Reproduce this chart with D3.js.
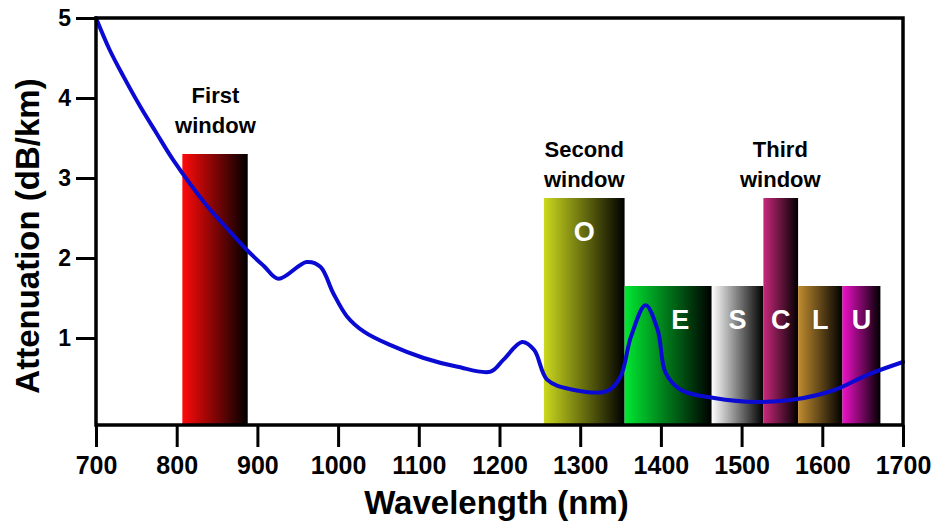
<!DOCTYPE html>
<html>
<head>
<meta charset="utf-8">
<script src="https://cdn.jsdelivr.net/npm/d3@7"></script>
<style>
  body { margin: 0; background: #fff; }
  text { font-family: "Liberation Sans", Arial, sans-serif; font-weight: bold; }
</style>
</head>
<body>
<script>
// attenuation curve of silica fibre
var wavelength = [700, 717, 734, 755, 775, 796, 837, 866, 887, 908, 926, 961, 978, 994, 1011, 1032,
                  1065, 1106, 1148, 1189, 1205, 1228, 1243, 1259, 1288, 1334, 1350, 1363, 1381, 1396,
                  1406, 1425, 1466, 1520, 1565, 1615, 1656, 1700];
var attenuation = [5.0, 4.6, 4.27, 3.89, 3.56, 3.22, 2.66, 2.33, 2.1, 1.9, 1.74, 1.95, 1.89, 1.56, 1.27, 1.08,
                   0.91, 0.75, 0.64, 0.58, 0.73, 0.95, 0.85, 0.48, 0.36, 0.34, 0.52, 1.02, 1.41, 1.1,
                   0.56, 0.35, 0.25, 0.2, 0.23, 0.35, 0.54, 0.70];

// bands (windows)
var bandNames  = ["", "O", "E", "S", "C", "L", "U"];
var bandStart  = [807, 1255, 1355, 1463, 1527, 1570, 1625];
var bandEnd    = [888, 1355, 1463, 1527, 1570, 1625, 1672];
var bandTop    = [3.3, 2.75, 1.65, 1.65, 2.75, 1.65, 1.65];
var bandColors = ["#ff0a0a", "#cbd81e", "#00e832", "#ffffff", "#c8287a", "#c08c30", "#f010c8"];

var windowNames = [["First", "window"], ["Second", "window"], ["Third", "window"]];
var windowCenter = [848, 1305, 1548];

var xTicks = [700, 800, 900, 1000, 1100, 1200, 1300, 1400, 1500, 1600, 1700];
var yTicks = [1, 2, 3, 4, 5];

var W = 935, H = 527;
var margin = {top: 18, right: 32, bottom: 102, left: 96};
var w = W - margin.left - margin.right;
var h = H - margin.top - margin.bottom;

var x = d3.scaleLinear().domain([700, 1700]).range([0, w]);
var y = d3.scaleLinear().domain([-0.0875, 5]).range([h, 0]);

var svg = d3.select("body").append("svg")
    .attr("width", W)
    .attr("height", H);

var defs = svg.append("defs");
bandColors.forEach(function(c, i) {
  var g = defs.append("linearGradient")
      .attr("id", "grad" + i)
      .attr("x1", "0%").attr("x2", "100%")
      .attr("y1", "0%").attr("y2", "0%");
  g.append("stop").attr("offset", "0%").attr("stop-color", c);
  g.append("stop").attr("offset", "100%").attr("stop-color", "#000");
});

var g = svg.append("g")
    .attr("transform", "translate(" + margin.left + "," + margin.top + ")");

// bars
var bands = d3.range(bandStart.length);
g.selectAll("rect.band")
  .data(bands)
  .enter()
  .append("rect")
  .attr("class", "band")
  .attr("x", function(i) { return x(bandStart[i]); })
  .attr("width", function(i) { return x(bandEnd[i]) - x(bandStart[i]); })
  .attr("y", function(i) { return y(bandTop[i]); })
  .attr("height", function(i) { return h - y(bandTop[i]); })
  .attr("fill", function(i) { return "url(#grad" + i + ")"; });

// letters in the bars
g.selectAll("text.band")
  .data(bands.filter(function(i) { return bandNames[i] != ""; }))
  .enter()
  .append("text")
  .attr("class", "band")
  .attr("x", function(i) { return x((bandStart[i] + bandEnd[i]) / 2) + (i == 2 ? 12 : 0); })
  .attr("y", function(i) { return i == 1 ? y(bandTop[i]) + 43 : y(1.65) + 43; })
  .attr("text-anchor", "middle")
  .attr("fill", "#fff")
  .style("font-size", "27px")
  .text(function(i) { return bandNames[i]; });

// window labels
windowNames.forEach(function(lines, i) {
  var t = g.append("text")
      .attr("text-anchor", "middle")
      .attr("fill", "#000")
      .style("font-size", "22px");
  t.append("tspan")
    .attr("x", x(windowCenter[i]))
    .attr("y", i == 0 ? 85 : 139)
    .text(lines[0]);
  t.append("tspan")
    .attr("x", x(windowCenter[i]))
    .attr("dy", 30)
    .text(lines[1]);
});

// curve
var line = d3.line()
    .x(function(d, i) { return x(wavelength[i]); })
    .y(function(d) { return y(d); })
    .curve(d3.curveCatmullRom.alpha(0.5));

g.append("path")
  .datum(attenuation)
  .attr("d", line)
  .attr("fill", "none")
  .attr("stroke", "#0a0ad2")
  .attr("stroke-width", 4)
  .attr("stroke-linejoin", "round")
  .attr("stroke-linecap", "round");

// frame
g.append("rect")
  .attr("x", 0).attr("y", 0)
  .attr("width", w).attr("height", h)
  .attr("fill", "none")
  .attr("stroke", "#000")
  .attr("stroke-width", 3.5);

// axes
var xAxis = g.append("g")
    .attr("transform", "translate(0," + h + ")")
    .call(d3.axisBottom(x).tickValues(xTicks).tickSize(22).tickPadding(9).tickFormat(d3.format("d")));
xAxis.select(".domain").remove();
xAxis.selectAll(".tick line").attr("stroke", "#000").attr("stroke-width", 3);
xAxis.selectAll(".tick text").attr("fill", "#000").style("font-size", "25px");

var yAxis = g.append("g")
    .call(d3.axisLeft(y).tickValues(yTicks).tickSize(20).tickPadding(5).tickFormat(d3.format("d")));
yAxis.select(".domain").remove();
yAxis.selectAll(".tick line").attr("stroke", "#000").attr("stroke-width", 3);
yAxis.selectAll(".tick text").attr("fill", "#000").style("font-size", "23px");

// axis titles
svg.append("text")
  .attr("x", margin.left + w / 2 - 3)
  .attr("y", 514)
  .attr("text-anchor", "middle")
  .style("font-size", "33px")
  .text("Wavelength (nm)");

svg.append("text")
  .attr("transform", "translate(39," + 236 + ") rotate(-90)")
  .attr("text-anchor", "middle")
  .style("font-size", "33px")
  .text("Attenuation (dB/km)");
</script>
</body>
</html>
